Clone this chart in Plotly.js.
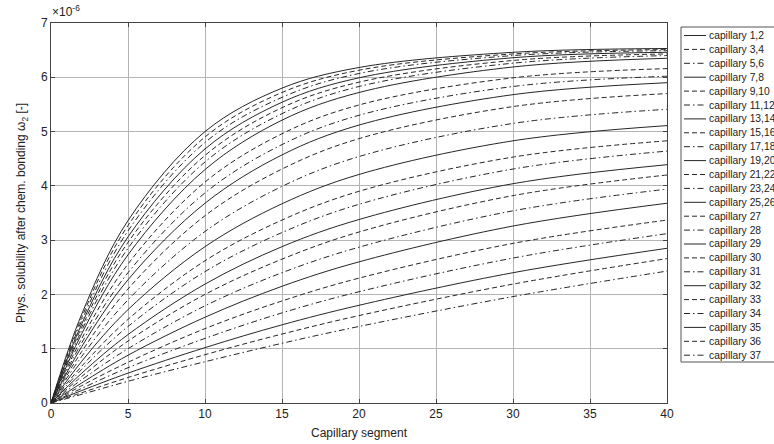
<!DOCTYPE html>
<html><head><meta charset="utf-8">
<script src="https://cdn.plot.ly/plotly-3.0.1.min.js"></script>
<style>html,body{margin:0;padding:0;background:#fff;overflow:hidden}</style>
</head><body><div id="chart" style="width:774px;height:444px"></div>
<script>
// x positions (capillary segment) at which the curves were read
const segments = [0, 2, 5, 10, 15, 20, 30, 40];
// physical solubility after chemical bonding, in units of 1e-6
const cap1_2   = [0, 1.64, 3.36, 5.00, 5.80, 6.18, 6.46, 6.53];
const cap3_4   = [0, 1.58, 3.27, 4.90, 5.72, 6.13, 6.43, 6.51];
const cap5_6   = [0, 1.52, 3.17, 4.80, 5.63, 6.07, 6.40, 6.49];
const cap7_8   = [0, 1.46, 3.06, 4.68, 5.54, 5.99, 6.36, 6.46];
const cap9_10  = [0, 1.40, 2.96, 4.56, 5.44, 5.91, 6.31, 6.43];
const cap11_12 = [0, 1.34, 2.85, 4.44, 5.33, 5.83, 6.26, 6.40];
const cap13_14 = [0, 1.28, 2.73, 4.30, 5.21, 5.72, 6.19, 6.35];
const cap15_16 = [0, 1.19, 2.56, 4.07, 4.96, 5.49, 5.99, 6.16];
const cap17_18 = [0, 1.11, 2.40, 3.87, 4.76, 5.30, 5.83, 6.02];
const cap19_20 = [0, 1.04, 2.27, 3.68, 4.57, 5.12, 5.68, 5.90];
const cap21_22 = [0, 0.95, 2.10, 3.45, 4.31, 4.87, 5.46, 5.70];
const cap23_24 = [0, 0.86, 1.90, 3.16, 3.99, 4.54, 5.15, 5.41];
const cap25_26 = [0, 0.77, 1.72, 2.88, 3.67, 4.21, 4.83, 5.11];
const cap27    = [0, 0.68, 1.54, 2.62, 3.37, 3.90, 4.53, 4.83];
const cap28    = [0, 0.62, 1.41, 2.42, 3.14, 3.66, 4.31, 4.64];
const cap29    = [0, 0.55, 1.26, 2.19, 2.88, 3.38, 4.04, 4.39];
const cap30    = [0, 0.49, 1.14, 2.00, 2.65, 3.15, 3.82, 4.20];
const cap31    = [0, 0.43, 1.00, 1.79, 2.40, 2.87, 3.54, 3.94];
const cap32    = [0, 0.37, 0.88, 1.58, 2.15, 2.60, 3.26, 3.68];
const cap33    = [0, 0.32, 0.75, 1.37, 1.88, 2.30, 2.94, 3.37];
const cap34    = [0, 0.27, 0.65, 1.19, 1.66, 2.05, 2.67, 3.12];
const cap35    = [0, 0.23, 0.55, 1.02, 1.44, 1.80, 2.40, 2.85];
const cap36    = [0, 0.19, 0.47, 0.89, 1.27, 1.61, 2.19, 2.66];
const cap37    = [0, 0.16, 0.40, 0.76, 1.10, 1.41, 1.96, 2.43];

const seriesValues = [cap1_2, cap3_4, cap5_6, cap7_8, cap9_10, cap11_12, cap13_14,
  cap15_16, cap17_18, cap19_20, cap21_22, cap23_24, cap25_26, cap27, cap28, cap29,
  cap30, cap31, cap32, cap33, cap34, cap35, cap36, cap37];
const seriesNames = ['capillary 1,2','capillary 3,4','capillary 5,6','capillary 7,8',
  'capillary 9,10','capillary 11,12','capillary 13,14','capillary 15,16','capillary 17,18',
  'capillary 19,20','capillary 21,22','capillary 23,24','capillary 25,26','capillary 27',
  'capillary 28','capillary 29','capillary 30','capillary 31','capillary 32','capillary 33',
  'capillary 34','capillary 35','capillary 36','capillary 37'];
const xTicks = [0, 5, 10, 15, 20, 25, 30, 35, 40];
const yTicks = [0, 1, 2, 3, 4, 5, 6, 7];
const yExponentLabel = '\u00d710<sup>-6</sup>';
const xTitle = 'Capillary segment';
const yTitle = 'Phys. solubility after chem. bonding \u03c9<sub>2</sub> [-]';

// ---- presentation ----
const W = 774, H = 444;
const M = {l: 51, r: 107, t: 23, b: 41};
const PW = W - M.l - M.r, PH = H - M.t - M.b;
const px2x = p => (p - M.l) / PW;
const px2y = p => (H - M.b - p) / PH;
const dashCycle = ['solid', '5px,3px', '6px,3px,1.5px,3px'];
const lineColor = '#262626';

const traces = seriesValues.map((vals, i) => ({
  type: 'scatter', mode: 'lines', x: segments, y: vals, name: seriesNames[i],
  line: {color: lineColor, width: 1, dash: dashCycle[i % 3], shape: 'spline', smoothing: 1},
  showlegend: false, hoverinfo: 'skip'
}));

const shapes = [{
  type: 'rect', xref: 'paper', yref: 'paper',
  x0: px2x(681), x1: px2x(840), y0: px2y(362), y1: px2y(27),
  line: {color: '#555', width: 1}, fillcolor: 'rgba(0,0,0,0)'
}];
const annotations = [{
  text: yExponentLabel, xref: 'paper', yref: 'paper', x: px2x(50), y: px2y(21),
  xanchor: 'left', yanchor: 'bottom', showarrow: false,
  font: {size: 12, color: '#222'}
}];
seriesNames.forEach((name, j) => {
  const py = 35.5 + 13.9 * j;
  shapes.push({type: 'line', xref: 'paper', yref: 'paper',
    x0: px2x(684), x1: px2x(706), y0: px2y(py), y1: px2y(py),
    line: {color: lineColor, width: 1, dash: dashCycle[j % 3]}});
  annotations.push({text: name, xref: 'paper', yref: 'paper', x: px2x(707), y: px2y(py),
    xanchor: 'left', yanchor: 'middle', showarrow: false, font: {size: 10.3, color: '#222'}});
});

const axisCommon = {
  showgrid: true, gridcolor: '#b4b4b4', gridwidth: 1, zeroline: false,
  showline: true, linecolor: '#444', linewidth: 1, mirror: 'ticks',
  ticks: 'inside', ticklen: 4, tickcolor: '#444',
  tickfont: {size: 12, color: '#222'}
};

const layout = {
  width: W, height: H, margin: M, paper_bgcolor: '#fff', plot_bgcolor: '#fff',
  font: {family: '"Liberation Sans", Arial, sans-serif', color: '#222'},
  xaxis: Object.assign({}, axisCommon, {range: [0, 40], tickvals: xTicks,
    title: {text: xTitle, font: {size: 12, color: '#222'}, standoff: 8}}),
  yaxis: Object.assign({}, axisCommon, {range: [0, 7], tickvals: yTicks,
    title: {text: yTitle, font: {size: 12, color: '#222'}, standoff: 12}}),
  shapes: shapes, annotations: annotations, showlegend: false
};

Plotly.newPlot('chart', traces, layout, {displayModeBar: false, staticPlot: true});
</script></body></html>
